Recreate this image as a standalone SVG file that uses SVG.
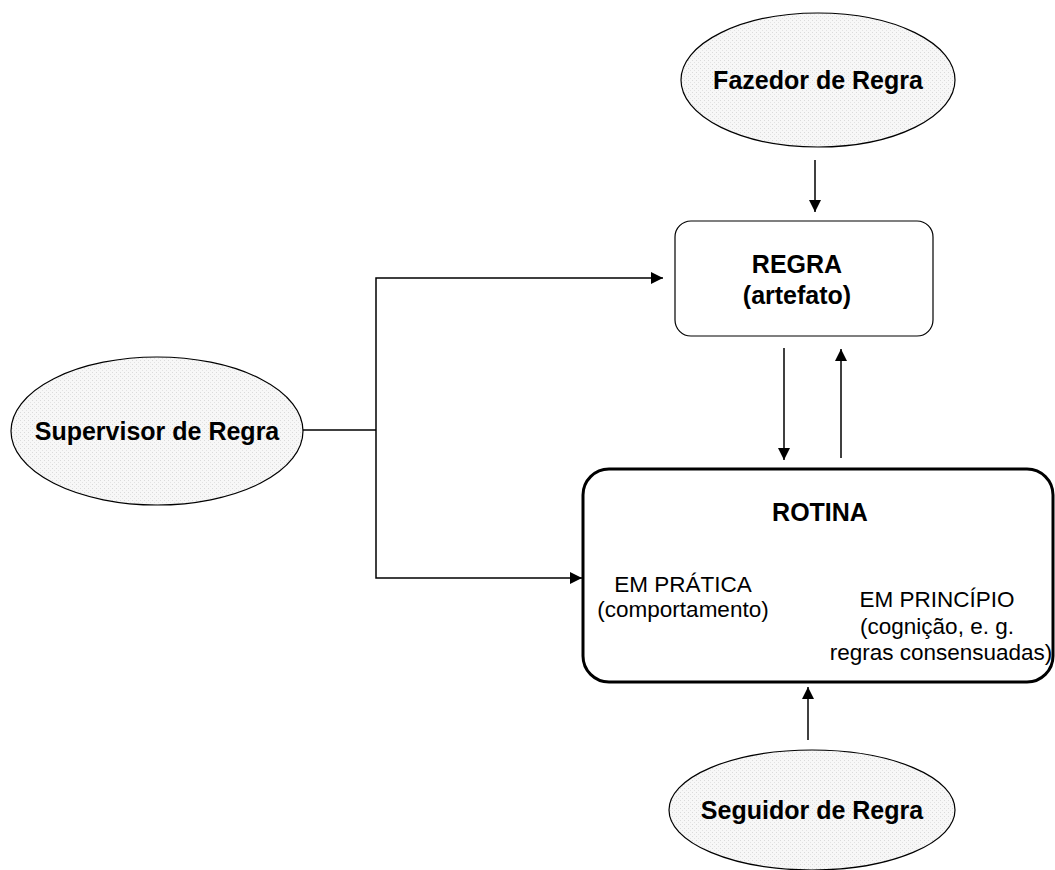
<svg xmlns="http://www.w3.org/2000/svg" width="1055" height="870" viewBox="0 0 1055 870">
<defs>
<pattern id="dots" width="4" height="4" patternUnits="userSpaceOnUse">
<rect width="4" height="4" fill="#f7f7f7"/>
<rect x="0" y="0" width="1" height="1" fill="#dadada"/>
<rect x="2" y="2" width="1" height="1" fill="#e2e2e2"/>
</pattern>
<marker id="arr" viewBox="0 0 10 10" refX="10" refY="5" markerWidth="12" markerHeight="12" markerUnits="userSpaceOnUse" orient="auto">
<path d="M0,0 L10,5 L0,10 Z" fill="#000"/>
</marker>
</defs>
<style>
.ell{fill:url(#dots);stroke:#000;stroke-width:1.2}
.lbl{font-family:"Liberation Sans",Arial,sans-serif;font-weight:bold;font-size:25px;fill:#000;text-anchor:middle}
.txt{font-family:"Liberation Sans",Arial,sans-serif;font-size:22.5px;fill:#000;text-anchor:middle}
.con{fill:none;stroke:#000;stroke-width:1.5}
</style>
<rect width="1055" height="870" fill="#fff"/>
<g id="fazedor">
<ellipse class="ell" cx="818" cy="80" rx="137" ry="67"/>
<text class="lbl" x="818" y="89">Fazedor de Regra</text>
</g>
<g id="regra">
<rect x="675" y="221" width="258" height="115" rx="16" fill="#fff" stroke="#000" stroke-width="1.2"/>
<text class="lbl" x="797" y="273">REGRA</text>
<text class="lbl" x="797" y="304">(artefato)</text>
</g>
<g id="supervisor">
<ellipse class="ell" cx="157" cy="431" rx="146" ry="74"/>
<text class="lbl" x="157" y="440">Supervisor de Regra</text>
</g>
<g id="rotina">
<rect x="583" y="469" width="470" height="213" rx="26" fill="#fff" stroke="#000" stroke-width="3"/>
<text class="lbl" x="820" y="521">ROTINA</text>
<text class="txt" x="683" y="592">EM PRÁTICA</text>
<text class="txt" x="683" y="617">(comportamento)</text>
<text class="txt" x="937" y="607">EM PRINCÍPIO</text>
<text class="txt" x="937" y="634">(cognição, e. g.</text>
<text class="txt" x="941" y="660">regras consensuadas)</text>
</g>
<g id="seguidor">
<ellipse class="ell" cx="812" cy="810" rx="143" ry="60"/>
<text class="lbl" x="812" y="819">Seguidor de Regra</text>
</g>
<g id="connectors">
<path class="con" d="M815,160 L815,212" marker-end="url(#arr)"/>
<path class="con" d="M303,430 L376,430" stroke-width="2"/>
<path class="con" d="M376,430 L376,278 L663,278" marker-end="url(#arr)"/>
<path class="con" d="M376,430 L376,578 L582,578" marker-end="url(#arr)"/>
<path class="con" d="M784,348 L784,460" marker-end="url(#arr)"/>
<path class="con" d="M841,458 L841,349" marker-end="url(#arr)"/>
<path class="con" d="M808,740 L808,687" marker-end="url(#arr)"/>
</g>
</svg>
